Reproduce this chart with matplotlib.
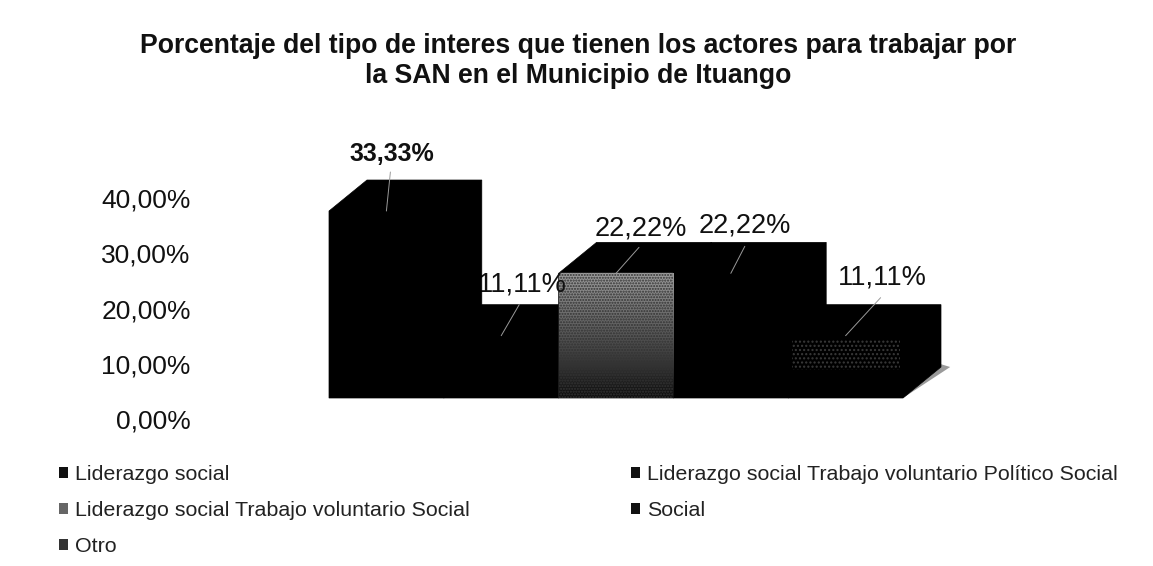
import matplotlib
matplotlib.use("Agg")
import matplotlib.pyplot as plt
from matplotlib.patches import Patch, Polygon
import numpy as np

categories = ["Liderazgo social",
              "Liderazgo social Trabajo voluntario Político Social",
              "Liderazgo social Trabajo voluntario Social",
              "Social",
              "Otro"]
values = [33.33, 11.11, 22.22, 22.22, 11.11]
value_labels = ["33,33%", "11,11%", "22,22%", "22,22%", "11,11%"]
axis_ticks = [0, 10, 20, 30, 40]
axis_tick_labels = ["0,00%", "10,00%", "20,00%", "30,00%", "40,00%"]
title_lines = ["Porcentaje del tipo de interes que tienen los actores para trabajar por",
               "la SAN en el Municipio de Ituango"]

W, H = 1153, 566
plt.rcParams["font.family"] = ["Liberation Sans", "DejaVu Sans"]
fig = plt.figure(figsize=(W / 100, H / 100), dpi=100, facecolor="white")

# main plotting axes: 5 touching bars, front faces from x=329 to 903 px, base at y=398 px
ax = fig.add_axes([329 / W, (H - 398) / H, 574 / W, 224.4 / H])
ax.axis("off")

depth_x = 38 / (574 / 5)      # 3D depth in data units
depth_y = 31 / (224.4 / 40)

# floor shadow
ax.add_patch(Polygon([(5, 0), (5 + depth_x + 0.08, depth_y), (5 + depth_x, depth_y + 0.5), (4.75, 0)],
                     closed=True, fc="#9a9a9a", ec="none", zorder=0.5, clip_on=False))

front_colors = ["black", "black", "#7c7c7c", "black", "black"]
# draw order lets bar 1 cover the label of bar 2, as in the reference
orders = [5, 2, 3, 3, 4]
bars = []
for i, (v, c, z) in enumerate(zip(values, front_colors, orders)):
    ax.add_patch(Polygon([(i, 0), (i, v), (i + depth_x, v + depth_y), (i + 1 + depth_x, v + depth_y),
                          (i + 1 + depth_x, depth_y), (i + 1, 0)],
                         closed=True, fc="black", ec="black", lw=0.5, zorder=z, clip_on=False))
    bars.append(ax.bar(i + 0.5, v, width=1, color=c, edgecolor=c, linewidth=0.3, zorder=z + 0.1)[0])

# halftone look of the third bar: grey top fading to dark bottom
grad = np.linspace(0, 1, 64).reshape(-1, 1)
im = ax.imshow(grad, extent=(2, 3, 0, values[2]), aspect="auto", cmap="gray",
               vmin=-0.1, vmax=1.7, origin="lower", zorder=orders[2] + 0.2)
im.set_clip_path(bars[2])
ax.bar(2.5, values[2], width=1, facecolor="none", edgecolor="#333333", hatch="......",
       linewidth=0, zorder=orders[2] + 0.3)
# the dim speckled area on the last bar
ax.bar(4.5, values[4] * 0.5, bottom=values[4] * 0.45, width=0.94, facecolor="none",
       edgecolor="#3a3a3a", hatch="....", linewidth=0, zorder=orders[4] + 0.3)
ax.set_xlim(0, 5)
ax.set_ylim(0, 40)

# data labels, offsets in pixels from each bar's front-top centre
label_offset = [(5, 57), (21, 51), (25, 45), (14, 48), (37, 58)]
leader_offset = [(4, 39), (18, 31), (23, 26), (14, 27), (35, 38)]
label_size = [18, 19.5, 19.5, 19.5, 19.5]
label_weight = ["bold", "normal", "normal", "normal", "normal"]
label_z = [6, 4, 6, 6, 6]
for i, (v, lab) in enumerate(zip(values, value_labels)):
    ax.annotate("", xy=(i + 0.5, v), xytext=leader_offset[i], textcoords="offset pixels",
                arrowprops=dict(arrowstyle="-", color="#9a9a9a", lw=0.7, shrinkA=0, shrinkB=0),
                zorder=12, annotation_clip=False)
    ax.annotate(lab, xy=(i + 0.5, v), xytext=label_offset[i], textcoords="offset pixels",
                ha="center", va="center", fontsize=label_size[i], fontweight=label_weight[i],
                color="#111111", zorder=label_z[i], annotation_clip=False)

# value axis: only its tick labels are shown
tax = fig.add_axes([195 / W, (H - 419) / H, 1 / W, 221 / H])
tax.set_ylim(0, 40)
tax.set_xticks([])
tax.set_yticks(axis_ticks, axis_tick_labels, fontsize=19, color="#111111")
tax.tick_params(axis="y", length=0, pad=3)
for s in tax.spines.values():
    s.set_visible(False)
tax.patch.set_alpha(0)

fig.text(578 / W, 1 - 53 / H, title_lines[0], ha="center", va="baseline", fontsize=19.2,
         fontweight="bold", color="#111111")
fig.text(578 / W, 1 - 83 / H, title_lines[1], ha="center", va="baseline", fontsize=19.2,
         fontweight="bold", color="#111111")

legend_colors = ["#111111", "#111111", "#666666", "#111111", "#333333"]
handles = [Patch(facecolor=c, edgecolor="none") for c in legend_colors]
order = [0, 2, 4, 1, 3]
fig.legend([handles[i] for i in order], [categories[i] for i in order],
           ncol=2, loc="upper left", bbox_to_anchor=(59 / W, 1 - 465 / H),
           frameon=False, fontsize=15.4, handlelength=0.42, handleheight=0.42,
           handletextpad=0.33, labelspacing=0.8, columnspacing=7.55,
           borderpad=0, borderaxespad=0, labelcolor="#222222")

fig.savefig("out.png", dpi=100, facecolor="white")
